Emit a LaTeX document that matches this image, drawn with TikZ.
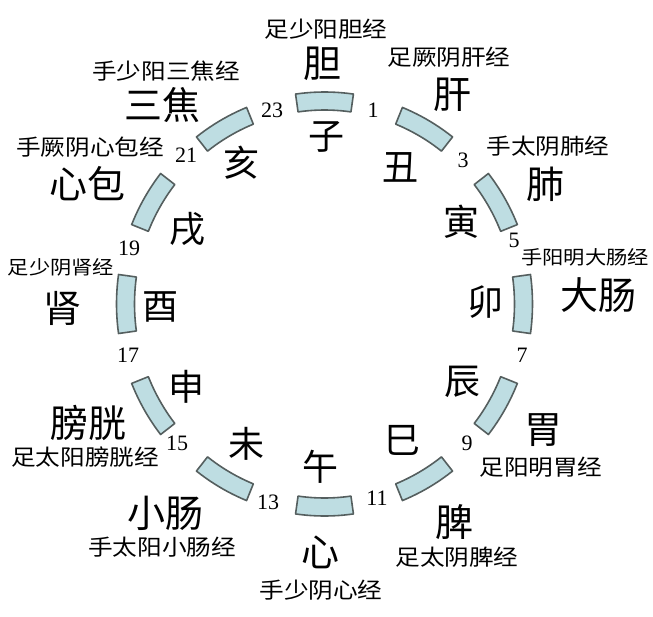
\documentclass[tikz,border=0pt]{standalone}
\usepackage{fontspec}
\usepackage{graphicx}
\setmainfont{Liberation Serif}
\newfontfamily\cjk{Noto Sans CJK SC}
\newcommand\wx[1]{\scalebox{1.12}[1]{#1}}
\begin{document}
\begin{tikzpicture}[x=1pt,y=-1pt,
  seg/.style={fill={rgb,255:red,190;green,221;blue,226}, draw={rgb,255:red,85;green,95;blue,95}, line width=1.6pt, line join=round},
  organ/.style={font=\cjk\fontsize{38}{38}\selectfont, inner sep=0pt},
  branch/.style={font=\cjk\fontsize{36}{36}\selectfont, inner sep=0pt},
  mer/.style={font=\cjk\fontsize{22}{22}\selectfont, inner sep=0pt},
  smer/.style={font=\cjk\fontsize{19}{19}\selectfont, inner sep=0pt},
  num/.style={font=\fontsize{22}{22}\selectfont, inner sep=0pt}]
\useasboundingbox (0,0) rectangle (653,616);
\fill[white] (0,0) rectangle (653,616);
% ring segments
\foreach \a [evaluate=\a as \s using \a-8, evaluate=\a as \e using \a+8] in {90,60,30,0,-30,-60,-90,-120,-150,180,150,120}
  \draw[seg] plot[domain=\s:\e, samples=12] ({324.5+208*cos(\x)},{304-212*sin(\x)})
     -- plot[domain=\e:\s, samples=12] ({324.5+190*cos(\x)},{304-194*sin(\x)}) -- cycle;
% hour numbers
\node[num] (h1)  at (373,110) {1};
\node[num] (h3)  at (463,160) {3};
\node[num] (h5)  at (514,240) {5};
\node[num] (h7)  at (522,355) {7};
\node[num] (h9)  at (467,443) {9};
\node[num] (h11) at (377,498) {11};
\node[num] (h13) at (268,502) {13};
\node[num] (h15) at (177,443) {15};
\node[num] (h17) at (128,355) {17};
\node[num] (h19) at (129,248) {19};
\node[num] (h21) at (186,155) {21};
\node[num] (h23) at (272,110) {23};
% earthly branches
\node[branch] (zi)   at (326,137) {子};
\node[branch] (chou) at (400,167) {丑};
\node[branch] (yin)  at (461,222) {寅};
\node[branch] (mao)  at (485,302) {卯};
\node[branch] (chen) at (462,382) {辰};
\node[branch] (si)   at (402,440) {巳};
\node[branch] (wu)   at (320,467) {午};
\node[branch] (wei)  at (246,444) {未};
\node[branch] (shen) at (186,387) {申};
\node[branch] (you)  at (160,307) {酉};
\node[branch] (xu)   at (187,229) {戌};
\node[branch] (hai)  at (241,163) {亥};
% organs
\node[organ] (o1)  at (322,64)  {胆};
\node[organ] (o2)  at (452,95)  {肝};
\node[organ] (o3)  at (545,184) {肺};
\node[organ] (o4)  at (598,295) {大肠};
\node[organ] (o5)  at (543,430) {胃};
\node[organ] (o6)  at (454,522) {脾};
\node[organ] (o7)  at (320,552) {心};
\node[organ] (o8)  at (165,513) {小肠};
\node[organ] (o9)  at (88,423)  {膀胱};
\node[organ] (o10) at (62,308)  {肾};
\node[organ] (o11) at (87,184)  {心包};
\node[organ] (o12) at (162,105) {三焦};
% meridians
\node[mer]  (m1)  at (326,29)  {\wx{足少阳胆经}};
\node[mer]  (m2)  at (449,57)  {\wx{足厥阴肝经}};
\node[mer]  (m3)  at (548,146) {\wx{手太阴肺经}};
\node[smer] (m4)  at (585,257) {\wx{手阳明大肠经}};
\node[mer]  (m5)  at (541,467) {\wx{足阳明胃经}};
\node[mer]  (m6)  at (457,557) {\wx{足太阴脾经}};
\node[mer]  (m7)  at (321,590) {\wx{手少阴心经}};
\node[mer]  (m8)  at (162,547) {\wx{手太阳小肠经}};
\node[mer]  (m9)  at (85,457)  {\wx{足太阳膀胱经}};
\node[smer] (m10) at (61,267)  {\wx{足少阴肾经}};
\node[mer]  (m11) at (90,147)  {\wx{手厥阴心包经}};
\node[mer]  (m12) at (166,71)  {\wx{手少阳三焦经}};
\end{tikzpicture}
\end{document}
